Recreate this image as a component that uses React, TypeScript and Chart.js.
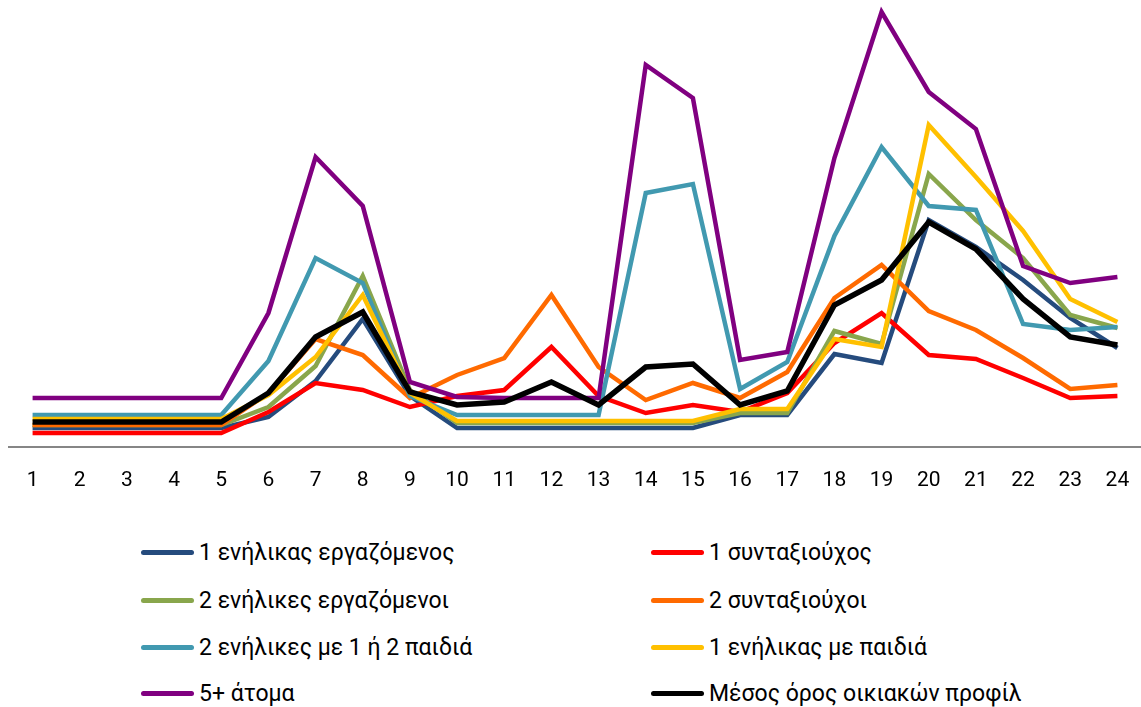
import React, { useEffect, useRef } from "react";
import { Chart, registerables } from "chart.js";

Chart.register(...registerables);

const hours = ["1","2","3","4","5","6","7","8","9","10","11","12","13","14","15","16","17","18","19","20","21","22","23","24"];

const seriesNames = [
  "1 ενήλικας εργαζόμενος",
  "1 συνταξιούχος",
  "2 ενήλικες εργαζόμενοι",
  "2 συνταξιούχοι",
  "2 ενήλικες με 1 ή 2 παιδιά",
  "1 ενήλικας με παιδιά",
  "5+ άτομα",
  "Μέσος όρος οικιακών προφίλ",
];

const oneWorker = [95,95,95,95,95,150,330,640,255,95,95,95,95,95,95,160,160,465,420,1135,1000,835,645,495];
const onePensioner = [70,70,70,70,70,175,320,285,200,255,285,500,255,170,210,175,270,520,670,460,440,345,245,255];
const twoWorkers = [110,110,110,110,110,200,405,855,285,120,120,120,120,120,120,170,170,580,515,1365,1135,945,660,595];
const twoPensioners = [110,110,110,110,110,270,540,460,245,360,445,760,400,235,320,245,375,745,910,680,585,445,290,310];
const twoAdultsKids = [160,160,160,160,160,430,945,820,255,160,160,160,160,1270,1315,290,425,1055,1500,1205,1185,615,585,600];
const oneAdultKids = [140,140,140,140,140,260,450,760,270,130,130,130,130,130,130,190,190,540,500,1610,1350,1080,740,625];
const fivePlus = [245,245,245,245,245,670,1450,1205,325,250,245,245,245,1910,1745,435,475,1445,2175,1775,1590,905,820,850];
const average = [125,125,125,125,125,270,550,675,275,210,225,325,210,400,415,210,280,710,835,1125,990,740,550,510];

const seriesValues = [oneWorker, onePensioner, twoWorkers, twoPensioners, twoAdultsKids, oneAdultKids, fivePlus, average];
const seriesColors = ["#254B7D", "#FF0000", "#89A64C", "#FF6A00", "#4199B0", "#FFC000", "#800080", "#000000"];
const seriesWidths = [4.5, 4.5, 4.5, 4.5, 4.5, 4.5, 4.5, 5.5];

const FONT = "Roboto, 'Noto Sans', sans-serif";

export default function App() {
  const ref = useRef<HTMLCanvasElement | null>(null);

  useEffect(() => {
    if (!ref.current) return;
    const chart = new Chart(ref.current, {
      type: "line",
      data: {
        labels: hours,
        datasets: seriesNames.map((name, i) => ({
          label: name,
          data: seriesValues[i],
          borderColor: seriesColors[i],
          backgroundColor: seriesColors[i],
          borderWidth: seriesWidths[i],
          pointRadius: 0,
          pointHoverRadius: 0,
          pointHitRadius: 0,
          tension: 0,
          fill: false,
          clip: false as any,
          order: seriesNames.length - 1 - i,
          borderJoinStyle: "miter" as const,
        })),
      },
      options: {
        animation: false,
        responsive: true,
        maintainAspectRatio: false,
        layout: { autoPadding: false, padding: { left: 9, right: 0, top: 7, bottom: 0 } },
        plugins: {
          legend: { display: false },
          tooltip: { enabled: false },
        },
        scales: {
          x: {
            offset: true,
            grid: { display: false, drawTicks: false },
            border: { display: true, color: "#868686", width: 2 },
            ticks: {
              color: "#000000",
              font: { family: FONT, size: 21 },
              padding: 21,
              maxRotation: 0,
              autoSkip: false,
            },
            afterFit: (scale: any) => {
              scale.height = 53;
              scale.paddingLeft = 0;
              scale.paddingRight = 0;
            },
          },
          y: {
            display: false,
            min: 0,
            max: 2200,
          },
        },
      },
    });
    return () => chart.destroy();
  }, []);

  const rows = [0, 1, 2, 3];
  const rowY = [552, 600, 647, 693];

  return (
    <div style={{ position: "fixed", left: 0, top: 0, width: 1141, height: 707, background: "#fff", overflow: "hidden" }}>
      <div style={{ position: "absolute", left: 0, top: 0, width: 1141, height: 500 }}>
        <canvas ref={ref} />
      </div>
      {rows.map((r) =>
        [0, 1].map((c) => {
          const idx = r * 2 + c;
          return (
            <div
              key={idx}
              style={{
                position: "absolute",
                left: c === 0 ? 141 : 651,
                top: rowY[r] - 15,
                height: 30,
                display: "flex",
                alignItems: "center",
                fontFamily: FONT,
                fontSize: 23,
                color: "#000",
                whiteSpace: "nowrap",
              }}
            >
              <span
                style={{
                  display: "inline-block",
                  width: 53,
                  height: 5,
                  borderRadius: 3,
                  background: seriesColors[idx],
                  marginRight: 5,
                  marginTop: 1,
                }}
              />
              <span>{seriesNames[idx]}</span>
            </div>
          );
        })
      )}
    </div>
  );
}
